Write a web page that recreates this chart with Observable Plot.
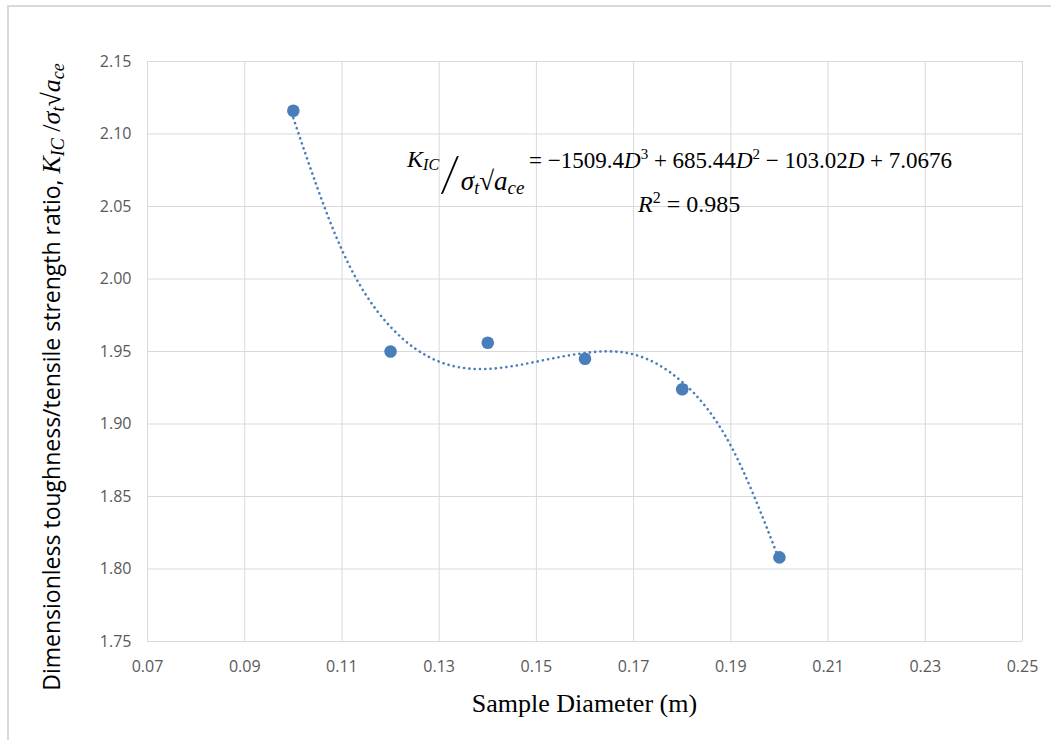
<!DOCTYPE html>
<html>
<head>
<meta charset="utf-8">
<script src="https://cdn.jsdelivr.net/npm/d3@7"></script>
<script src="https://cdn.jsdelivr.net/npm/@observablehq/plot@0.6"></script>
<style>
  html, body { margin: 0; padding: 0; background: #ffffff; }
  #chart { position: relative; width: 1051px; height: 740px; overflow: hidden; }
  #chart svg { position: absolute; left: 0; top: 0; }
  #frame { position: absolute; left: 7px; top: 5px; width: 1100px; height: 800px;
           border-top: 2px solid #d9d9d9; border-left: 2px solid #d9d9d9; pointer-events: none; }
</style>
</head>
<body>
<div id="chart"><div id="frame"></div></div>
<script>
// ---- data ----
const diameters = [0.10, 0.12, 0.14, 0.16, 0.18, 0.20];
const ratios    = [2.116, 1.950, 1.956, 1.945, 1.924, 1.808];

// dotted polynomial trendline
const trendD     = [0.10, 0.11, 0.12, 0.13, 0.14, 0.15, 0.16, 0.17, 0.18, 0.19, 0.20];
const trendRatio = [2.111, 2.020, 1.967, 1.943, 1.938, 1.943, 1.949, 1.948, 1.929, 1.885, 1.806];

const xTicks = [0.07, 0.09, 0.11, 0.13, 0.15, 0.17, 0.19, 0.21, 0.23, 0.25];
const yTicks = [1.75, 1.80, 1.85, 1.90, 1.95, 2.00, 2.05, 2.10, 2.15];

const xLabel = "Sample Diameter (m)";
const yLabelText = "Dimensionless toughness/tensile strength ratio, ";
const eqCoefs = ["1509.4", "685.44", "103.02", "7.0676"];
const r2 = "0.985";

const points = diameters.map((d, i) => ({d, r: ratios[i]}));
const trend = trendD.map((d, i) => ({d, r: trendRatio[i]}));

const blue = "#4a7ebb";
const grid = "#d9d9d9";

const plot = Plot.plot({
  width: 1051,
  height: 740,
  marginLeft: 147,
  marginRight: 29,
  marginTop: 61,
  marginBottom: 99,
  style: { fontFamily: "'Open Sans', sans-serif", background: "transparent" },
  x: { domain: [0.07, 0.25] },
  y: { domain: [1.75, 2.15] },
  marks: [
    Plot.gridX(xTicks, { stroke: grid, strokeOpacity: 1, strokeWidth: 1 }),
    Plot.gridY(yTicks, { stroke: grid, strokeOpacity: 1, strokeWidth: 1 }),
    Plot.axisX(xTicks, { tickSize: 0, tickPadding: 19, tickFormat: d3.format(".2f"),
                         fontSize: 16, color: "#595959", label: null }),
    Plot.axisY(yTicks, { tickSize: 0, tickPadding: 16, tickFormat: d3.format(".2f"),
                         fontSize: 16, color: "#595959", label: null }),
    Plot.line(trend, { x: "d", y: "r", curve: "natural", stroke: blue, strokeWidth: 2.6,
                       strokeDasharray: "0.1 5.2", strokeLinecap: "round" }),
    Plot.dot(points, { x: "d", y: "r", r: 6.3, fill: blue, stroke: "none" })
  ]
});

document.getElementById("chart").prepend(plot);

const svg = d3.select(plot);
const sx = (v) => plot.scale("x").apply(v);
const sy = (v) => plot.scale("y").apply(v);

// x-axis title
svg.append("text")
  .attr("x", (sx(0.07) + sx(0.25)) / 2).attr("y", 712)
  .attr("text-anchor", "middle")
  .attr("font-family", "'Liberation Serif', 'Times New Roman', serif")
  .attr("font-size", 26).attr("fill", "#000")
  .text(xLabel);

// y-axis title (rotated)
const yl = svg.append("text")
  .attr("transform", `translate(60, 377) rotate(-90)`)
  .attr("text-anchor", "middle")
  .attr("fill", "#000");
yl.append("tspan").attr("font-family", "'Open Sans', sans-serif").attr("font-size", 23)
  .text(yLabelText);
const mathY = (sel) => sel.attr("font-family", "'Liberation Serif', serif").attr("font-style", "italic");
mathY(yl.append("tspan")).attr("font-size", 26).text("K");
mathY(yl.append("tspan")).attr("font-size", 18).attr("baseline-shift", "-4").text("IC");
mathY(yl.append("tspan")).attr("font-size", 26).attr("font-style", "normal").text(" /");
mathY(yl.append("tspan")).attr("font-size", 26).text("σ");
mathY(yl.append("tspan")).attr("font-size", 18).attr("baseline-shift", "-4").text("t");
mathY(yl.append("tspan")).attr("font-size", 26).attr("font-style", "normal").text("√");
mathY(yl.append("tspan")).attr("font-size", 26).text("a");
mathY(yl.append("tspan")).attr("font-size", 18).attr("baseline-shift", "-4").text("ce");

// equation annotation anchored in data space
const ax = sx(0.1235), ay = sy(2.077);
const eq = svg.append("g")
  .attr("font-family", "'Liberation Serif', 'Times New Roman', serif")
  .attr("text-anchor", "start")
  .attr("fill", "#000");

// left-hand side: K_IC / (σ_t √a_ce) as one text with shifted tspans
const lhs = eq.append("text").attr("x", ax).attr("y", ay);
lhs.append("tspan").attr("font-size", 24).attr("font-style", "italic").text("K");
lhs.append("tspan").attr("font-size", 16).attr("font-style", "italic").attr("dy", 3).text("IC");
lhs.append("tspan").attr("font-family", "Lato, 'DejaVu Sans', sans-serif").attr("font-weight", 300)
  .attr("font-size", 50).attr("dy", 22).text("/");
lhs.append("tspan").attr("font-size", 27).attr("font-style", "italic").attr("dy", -2).text("σ");
lhs.append("tspan").attr("font-size", 18).attr("font-style", "italic").attr("dy", 4).text("t");
lhs.append("tspan").attr("font-size", 27).attr("dy", -4).text("√");
lhs.append("tspan").attr("font-size", 27).attr("font-style", "italic").text("a");
lhs.append("tspan").attr("font-size", 19).attr("font-style", "italic").attr("dy", 4).text("ce");

const t3 = eq.append("text").attr("x", ax + 122).attr("y", ay + 1).attr("font-size", 23);
t3.append("tspan").text("= −" + eqCoefs[0]);
t3.append("tspan").attr("font-style", "italic").text("D");
t3.append("tspan").attr("font-size", 15).attr("dy", -9).text("3");
t3.append("tspan").attr("dy", 9).text(" + " + eqCoefs[1]);
t3.append("tspan").attr("font-style", "italic").text("D");
t3.append("tspan").attr("font-size", 15).attr("dy", -9).text("2");
t3.append("tspan").attr("dy", 9).text(" − " + eqCoefs[2]);
t3.append("tspan").attr("font-style", "italic").text("D");
t3.append("tspan").text(" + " + eqCoefs[3]);

const t4 = eq.append("text").attr("x", ax + 231).attr("y", ay + 45).attr("font-size", 24);
t4.append("tspan").attr("font-style", "italic").text("R");
t4.append("tspan").attr("font-size", 16).attr("dy", -9).text("2");
t4.append("tspan").attr("dy", 9).text(" = " + r2);
</script>
</body>
</html>
